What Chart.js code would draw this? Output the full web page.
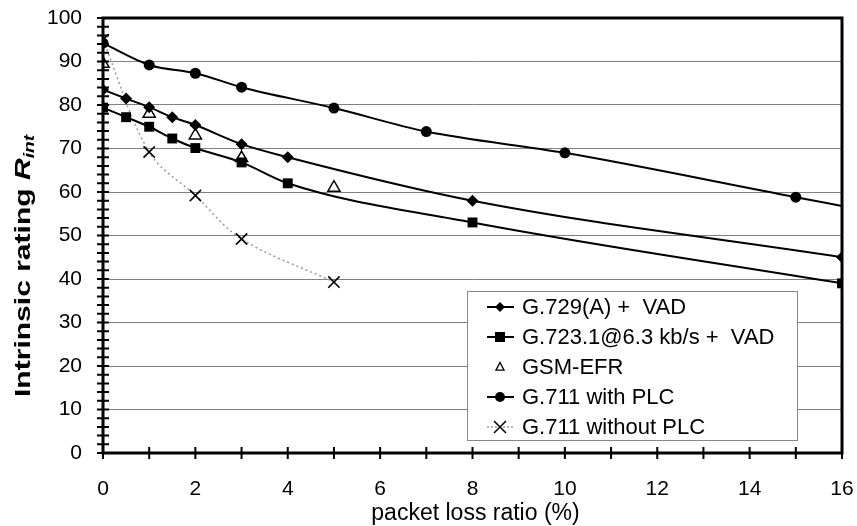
<!DOCTYPE html>
<html>
<head>
<meta charset="utf-8">
<script src="https://cdn.jsdelivr.net/npm/chart.js@4"></script>
<style>
  html, body { margin: 0; padding: 0; background: #fff; }
</style>
</head>
<body>
<canvas id="lossChart" width="857" height="526"></canvas>
<script>
// values (packet loss %, R_int)
const g729Loss = [0, 0.5, 1, 1.5, 2, 3, 4, 8, 16];
const g729R = [83.5, 81.5, 79.5, 77.2, 75.4, 71, 68, 58, 45];

const g723Loss = [0, 0.5, 1, 1.5, 2, 3, 4, 8, 16];
const g723R = [79.4, 77.2, 75, 72.3, 70.1, 66.8, 62, 53, 39];

const gsmLoss = [0, 1, 2, 3, 5];
const gsmR = [89.5, 78, 73, 67.8, 61];

const plcLoss = [0, 1, 2, 3, 5, 7, 10, 15, 16];
const plcR = [94.2, 89.2, 87.3, 84.1, 79.3, 73.9, 69, 58.8, 56.8];

const noPlcLoss = [0, 1, 2, 3, 5];
const noPlcR = [95, 69.2, 59.2, 49.2, 39.3];

const seriesLabels = ['G.729(A) +  VAD', 'G.723.1@6.3 kb/s +  VAD', 'GSM-EFR', 'G.711 with PLC', 'G.711 without PLC'];
const xTicks = [0, 2, 4, 6, 8, 10, 12, 14, 16];
const yTicks = [0, 10, 20, 30, 40, 50, 60, 70, 80, 90, 100];

const toPoints = (xs, ys) => xs.map((x, i) => ({ x: x, y: ys[i] }));

// marker shapes used in the legend box
function marker(ctx, style, x, y, r) {
  ctx.beginPath();
  if (style === 'diamond') {
    ctx.moveTo(x, y - r); ctx.lineTo(x + r, y); ctx.lineTo(x, y + r); ctx.lineTo(x - r, y); ctx.closePath();
    ctx.fillStyle = '#000'; ctx.fill();
  } else if (style === 'square') {
    ctx.rect(x - r, y - r, 2 * r, 2 * r);
    ctx.fillStyle = '#000'; ctx.fill();
  } else if (style === 'triangle') {
    ctx.moveTo(x, y - r); ctx.lineTo(x + r * 0.9, y + r * 0.7); ctx.lineTo(x - r * 0.9, y + r * 0.7); ctx.closePath();
    ctx.fillStyle = '#fff'; ctx.fill();
    ctx.lineWidth = 1.3; ctx.strokeStyle = '#000'; ctx.stroke();
  } else if (style === 'circle') {
    ctx.arc(x, y, r, 0, Math.PI * 2);
    ctx.fillStyle = '#000'; ctx.fill();
  } else if (style === 'x') {
    ctx.moveTo(x - r, y - r); ctx.lineTo(x + r, y + r);
    ctx.moveTo(x + r, y - r); ctx.lineTo(x - r, y + r);
    ctx.lineWidth = 1.5; ctx.strokeStyle = '#000'; ctx.stroke();
  }
}

const framePlugin = {
  id: 'frame',
  afterDraw(chart) {
    const ctx = chart.ctx;
    const a = chart.chartArea;
    const xs = chart.scales.x, ys = chart.scales.y;
    ctx.save();

    // tick marks crossing the axes
    ctx.strokeStyle = '#000';
    ctx.lineWidth = 2;
    ctx.beginPath();
    for (let v = 0; v <= 100; v += 2) {
      const py = ys.getPixelForValue(v);
      ctx.moveTo(a.left - 6, py); ctx.lineTo(a.left + 6, py);
    }
    for (let v = 0; v <= 16; v += 1) {
      const px = xs.getPixelForValue(v);
      ctx.moveTo(px, a.bottom - 6); ctx.lineTo(px, a.bottom + 6);
    }
    ctx.stroke();

    // plot frame
    ctx.lineWidth = 3;
    ctx.strokeRect(a.left, a.top, a.right - a.left, a.bottom - a.top);

    // legend box
    const box = { left: 467, top: 291, right: 797, bottom: 440 };
    ctx.fillStyle = '#fff';
    ctx.fillRect(box.left, box.top, box.right - box.left, box.bottom - box.top);
    ctx.lineWidth = 1;
    ctx.strokeStyle = '#888';
    ctx.strokeRect(box.left + 0.5, box.top + 0.5, box.right - box.left, box.bottom - box.top);

    const styles = ['diamond', 'square', 'triangle', 'circle', 'x'];
    const sizes = [5, 5, 4.5, 5, 6];
    chart.data.datasets.forEach((ds, i) => {
      const y = 307 + i * 30;
      if (ds.showLine !== false) {
        ctx.beginPath();
        ctx.setLineDash(i === 4 ? [2, 2] : []);
        ctx.strokeStyle = i === 4 ? '#999' : '#000';
        ctx.lineWidth = i === 4 ? 1.5 : 2;
        ctx.moveTo(487, y); ctx.lineTo(514, y);
        ctx.stroke();
        ctx.setLineDash([]);
      }
      marker(ctx, styles[i], 500, y, sizes[i]);
      ctx.fillStyle = '#000';
      ctx.font = '22px "Liberation Sans", Arial, sans-serif';
      ctx.textAlign = 'left';
      ctx.textBaseline = 'middle';
      ctx.fillText(ds.label, 522, y + 1);
    });

    // x axis title
    ctx.fillStyle = '#000';
    ctx.font = '23px "Liberation Sans", Arial, sans-serif';
    ctx.textAlign = 'center';
    ctx.textBaseline = 'middle';
    ctx.fillText('packet loss ratio (%)', (a.left + a.right) / 2 + 3, 514);

    // y axis title with R_int
    ctx.translate(22, 266);
    ctx.rotate(-Math.PI / 2);
    const mainFont = 'bold 22px "Liberation Sans", Arial, sans-serif';
    const rFont = 'bold italic 22px "Liberation Sans", Arial, sans-serif';
    const subFont = 'bold italic 14px "Liberation Sans", Arial, sans-serif';
    const mainText = 'Intrinsic rating ';
    ctx.font = mainFont; const w1 = ctx.measureText(mainText).width;
    ctx.font = rFont; const w2 = ctx.measureText('R').width;
    ctx.font = subFont; const w3 = ctx.measureText('int').width;
    const total = w1 + w2 + w3;
    ctx.scale(262 / total, 1);
    ctx.textAlign = 'left';
    ctx.textBaseline = 'alphabetic';
    let cx = -total / 2;
    ctx.font = mainFont; ctx.fillText(mainText, cx, 8); cx += w1;
    ctx.font = rFont; ctx.fillText('R', cx, 8); cx += w2;
    ctx.font = subFont; ctx.fillText('int', cx, 12);
    ctx.restore();
  }
};

new Chart(document.getElementById('lossChart'), {
  type: 'scatter',
  data: {
    datasets: [
      {
        label: seriesLabels[0],
        data: toPoints(g729Loss, g729R),
        showLine: true,
        cubicInterpolationMode: 'monotone',
        borderColor: '#000',
        borderWidth: 2,
        backgroundColor: '#000',
        pointStyle: 'rectRot',
        pointRadius: 6,
        pointBorderWidth: 0
      },
      {
        label: seriesLabels[1],
        data: toPoints(g723Loss, g723R),
        showLine: true,
        cubicInterpolationMode: 'monotone',
        borderColor: '#000',
        borderWidth: 2,
        backgroundColor: '#000',
        pointStyle: 'rect',
        pointRadius: 7,
        pointBorderWidth: 0
      },
      {
        label: seriesLabels[2],
        data: toPoints(gsmLoss, gsmR),
        showLine: false,
        borderColor: '#000',
        backgroundColor: '#fff',
        pointStyle: 'triangle',
        pointRadius: 7,
        pointBorderWidth: 1.5
      },
      {
        label: seriesLabels[3],
        data: toPoints(plcLoss, plcR),
        showLine: true,
        cubicInterpolationMode: 'monotone',
        borderColor: '#000',
        borderWidth: 2,
        backgroundColor: '#000',
        pointStyle: 'circle',
        pointRadius: plcLoss.map(x => (x === 16 ? 0 : 5.5)),
        pointBorderWidth: 0
      },
      {
        label: seriesLabels[4],
        data: toPoints(noPlcLoss, noPlcR),
        showLine: true,
        tension: 0.35,
        borderColor: '#999',
        borderWidth: 1.5,
        borderDash: [2, 3],
        pointBorderColor: '#000',
        backgroundColor: '#000',
        pointStyle: 'crossRot',
        pointRadius: 8,
        pointBorderWidth: 1.6
      }
    ]
  },
  options: {
    responsive: false,
    animation: false,
    layout: { padding: { top: 18, right: 15, left: 0, bottom: 0 } },
    plugins: {
      legend: { display: false },
      tooltip: { enabled: false }
    },
    scales: {
      x: {
        type: 'linear',
        min: 0,
        max: 16,
        afterBuildTicks: scale => { scale.ticks = xTicks.map(v => ({ value: v })); },
        afterFit: scale => {
          scale.height = 73;
          scale.paddingLeft = 0;
          scale.paddingRight = 0;
        },
        grid: { display: false, drawTicks: false },
        border: { display: false },
        ticks: {
          padding: 24,
          color: '#000',
          font: { family: '"Liberation Sans", Arial, sans-serif', size: 21 }
        }
      },
      y: {
        min: 0,
        max: 100,
        afterBuildTicks: scale => { scale.ticks = yTicks.map(v => ({ value: v })); },
        afterFit: scale => {
          scale.width = 103;
          scale.paddingTop = 0;
          scale.paddingBottom = 0;
        },
        grid: { color: '#808080', lineWidth: 1, drawTicks: false },
        border: { display: false },
        ticks: {
          padding: 21,
          color: '#000',
          font: { family: '"Liberation Sans", Arial, sans-serif', size: 21 }
        }
      }
    }
  },
  plugins: [framePlugin]
});
</script>
</body>
</html>
